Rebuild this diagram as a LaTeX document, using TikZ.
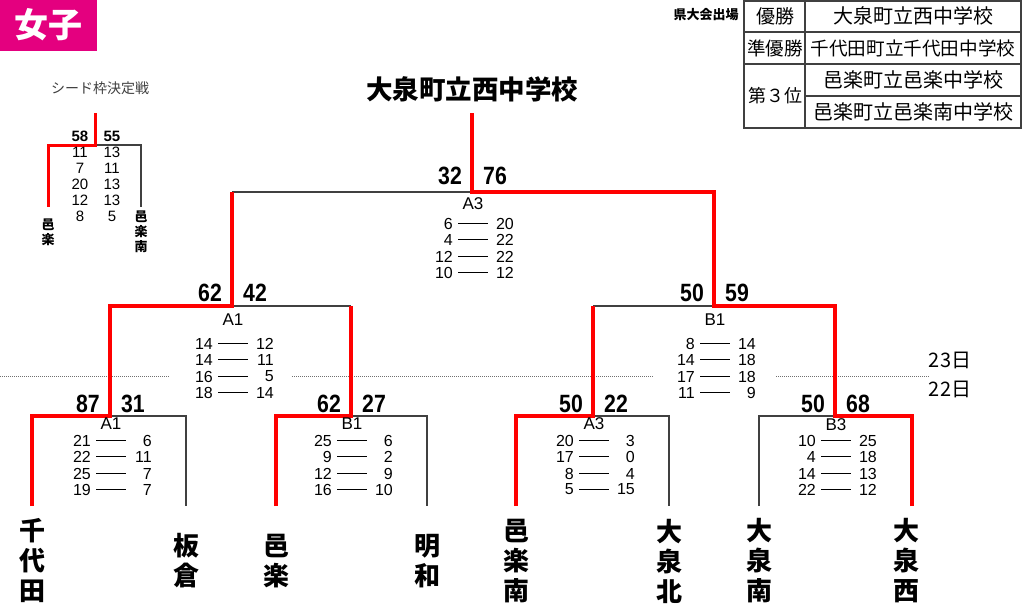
\documentclass[tikz,border=0pt]{standalone}
\usepackage{fontspec}
\setmainfont{Liberation Sans}
\newfontfamily\jp{Noto Sans CJK JP}
\newfontfamily\narrow[FakeStretch=0.85]{Liberation Sans}
\definecolor{mag}{HTML}{E4007F}
\definecolor{lgray}{HTML}{404040}
\definecolor{redl}{HTML}{FF0000}
\definecolor{dotc}{HTML}{707070}
\newcommand\fs[1]{\fontsize{#1}{#1}\selectfont}
\tikzset{
  gl/.style={draw=lgray,line width=1.2pt},
  rl/.style={draw=redl,line width=3.5pt},
  tl/.style={draw=lgray,line width=1.2pt},
  sc/.style={inner sep=0pt,font=\fs{16}},
  lab/.style={inner sep=0pt,font=\fs{17}},
  bs/.style={inner sep=0pt,font=\narrow\bfseries\fs{25}},
  seednum/.style={inner sep=0pt,font=\fs{15}},
  seedbold/.style={inner sep=0pt,font=\bfseries\fs{15}},
  scoreline/.style={draw=black,line width=1pt},
  team/.style={inner sep=0pt,align=center,font=\jp\bfseries\fontsize{26}{30}\selectfont},
  seedteam/.style={inner sep=0pt,align=center,font=\jp\bfseries\fontsize{13}{15}\selectfont},
  tabtext/.style={inner sep=0pt,font=\jp\fs{20}},
  dotline/.style={draw=dotc,line width=0.8pt,dash pattern=on 1pt off 1pt},
}
% #1 prefix, #2 junction x, #3 label y, #4 first row y, #5 label, #6 rows a/b
\newcommand\scoreset[6]{%
  \node[lab] (#1lab) at (#2+1,#3) {#5};
  \foreach \a/\b [count=\i] in {#6} {
    \pgfmathsetmacro\yy{round(#4+16.4*(\i-1))+0.5}
    \node[sc,anchor=east] (#1l\i) at (#2-19,\yy) {\a};
    \node[sc,anchor=east] (#1r\i) at (#2+42,\yy) {\b};
    \draw[scoreline] ([xshift=5pt]#1l\i.east) -- ++(30,0);
  }
}
% #1 prefix, #2 junction x, #3 y, #4 left, #5 right
\newcommand\bold[5]{%
  \node[bs] (#1a) at (#2-22,#3) {#4};
  \node[bs] (#1b) at (#2+23,#3) {#5};
}
\begin{document}
\begin{tikzpicture}[x=1pt,y=-1pt]
\path[use as bounding box] (0,0) rectangle (1024,608);
\fill[white] (0,0) rectangle (1024,608);

% title box
\fill[mag] (0,0) rectangle (97,51);
\node[inner sep=0pt,text=white,font=\jp\bfseries\fs{34}] (girls) at (48.5,25) {女子};

% table
\node[inner sep=0pt,font=\jp\bfseries\fs{13}] (kentai) at (706,15) {県大会出場};
\draw[tl] (744,1) rectangle (1021,128);
\draw[tl] (805,1) -- (805,128);
\draw[tl] (744,32) -- (1021,32);
\draw[tl] (744,64) -- (1021,64);
\draw[tl] (805,96) -- (1021,96);
\node[tabtext,font=\jp\fs{19}] (t11) at (775,16) {優勝};
\node[tabtext,font=\jp\fs{18.5}] (t21) at (775,48) {準優勝};
\node[tabtext,font=\jp\fs{18}] (t31) at (775,96) {第３位};
\node[tabtext] (t12) at (913,16) {大泉町立西中学校};
\node[tabtext,font=\jp\fs{18.6}] (t22) at (913,48) {千代田町立千代田中学校};
\node[tabtext] (t32) at (913,80) {邑楽町立邑楽中学校};
\node[tabtext] (t42) at (913,112) {邑楽町立邑楽南中学校};

% seed bracket
\node[inner sep=0pt,text=lgray,font=\jp\fs{14}] (seedtitle) at (100,88) {シード枠決定戦};
\coordinate (sTop) at (95,113);
\coordinate (sJ) at (95,145);
\coordinate (sL) at (48,145);
\coordinate (sR) at (141,145);
\coordinate (sb1) at (48,207);
\coordinate (sb2) at (141,207);
\draw[gl] (sJ) -- (sR) -- (sb2);
\draw[rl,line width=3pt] (sTop) -- (sJ) -- (sL) -- (sb1);
\node[seedbold] (sa) at (80,136) {58};
\node[seedbold] (sb) at (112,136) {55};
\foreach \a/\b [count=\i] in {11/13,7/11,20/13,12/13,8/5} {
  \node[seednum] (sl\i) at (80,152+16*\i-16) {\a};
  \node[seednum] (sr\i) at (112,152+16*\i-16) {\b};
}
\node[seedteam] (sn1) at (48,232) {邑\\楽};
\node[seedteam] (sn2) at (141,232) {邑\\楽\\南};

% champion
\node[inner sep=0pt,font=\jp\bfseries\fs{26.5}] (champ) at (472,89) {大泉町立西中学校};

% day separator
\draw[dotline] (0,376) -- (170,376);
\draw[dotline] (292,376) -- (654,376);
\draw[dotline] (776,376) -- (930,376);
\node[inner sep=0pt,font=\jp\fs{20}] (d23) at (950,360) {23日};
\node[inner sep=0pt,font=\jp\fs{20}] (d22) at (950,389) {22日};

% bracket coordinates
\coordinate (m1L) at (32,416);  \coordinate (m1J) at (110,416); \coordinate (m1R) at (186,416);
\coordinate (m2L) at (276,416); \coordinate (m2J) at (351,416); \coordinate (m2R) at (427,416);
\coordinate (m3L) at (516,416); \coordinate (m3J) at (593,416); \coordinate (m3R) at (669,416);
\coordinate (m4L) at (759,416); \coordinate (m4J) at (835,416); \coordinate (m4R) at (912,416);
\coordinate (s1L) at (110,306); \coordinate (s1J) at (232,306); \coordinate (s1R) at (351,306);
\coordinate (s2L) at (593,306); \coordinate (s2J) at (714,306); \coordinate (s2R) at (835,306);
\coordinate (fL) at (232,192);  \coordinate (fJ) at (472,192);  \coordinate (fR) at (714,192);
\coordinate (top) at (472,113);
\foreach \n/\x in {1/32,2/186,3/276,4/427,5/516,6/669,7/759,8/912}
  \coordinate (b\n) at (\x,506);

% losers (gray)
\draw[gl] (m1J) -- (m1R) -- (b2);
\draw[gl] (m2J) -- (m2R) -- (b4);
\draw[gl] (m3J) -- (m3R) -- (b6);
\draw[gl] (b7) -- (m4L) -- (m4J);
\draw[gl] (s1J) -- (s1R);
\draw[gl] (s2L) -- (s2J);
\draw[gl] (fL) -- (fJ);
% winners (red)
\draw[rl] (b1) -- (m1L) -- (m1J) -- (s1L) -- (s1J) -- (fL);
\draw[rl] (b3) -- (m2L) -- (m2J) -- (s1R);
\draw[rl] (b5) -- (m3L) -- (m3J) -- (s2L);
\draw[rl] (b8) -- (m4R) -- (m4J) -- (s2R) -- (s2J) -- (fR) -- (fJ) -- (top);

% scores
\bold{m1}{110}{404}{87}{31}
\bold{m2}{351}{404}{62}{27}
\bold{m3}{593}{404}{50}{22}
\bold{m4}{835}{404}{50}{68}
\bold{s1}{232}{293}{62}{42}
\bold{s2}{714}{293}{50}{59}
\bold{f}{472}{176}{32}{76}

\scoreset{m1}{110}{424}{440}{A1}{21/6,22/11,25/7,19/7}
\scoreset{m2}{351}{424}{440}{B1}{25/6,9/2,12/9,16/10}
\scoreset{m3}{593}{424}{440}{A3}{20/3,17/0,8/4,5/15}
\scoreset{m4}{835}{425}{440}{B3}{10/25,4/18,14/13,22/12}
\scoreset{s1}{232}{320}{343}{A1}{14/12,14/11,16/5,18/14}
\scoreset{s2}{714}{320}{343}{B1}{8/14,14/18,17/18,11/9}
\scoreset{f}{472}{204}{223}{A3}{6/20,4/22,12/22,10/12}

% teams
\node[team] (n1) at (32,561) {千\\代\\田};
\node[team] (n2) at (186,561) {板\\倉};
\node[team] (n3) at (276,561) {邑\\楽};
\node[team] (n4) at (427,561) {明\\和};
\node[team] (n5) at (516,561) {邑\\楽\\南};
\node[team] (n6) at (669,561) {大\\泉\\北};
\node[team] (n7) at (759,561) {大\\泉\\南};
\node[team] (n8) at (906,561) {大\\泉\\西};
\end{tikzpicture}
\end{document}
